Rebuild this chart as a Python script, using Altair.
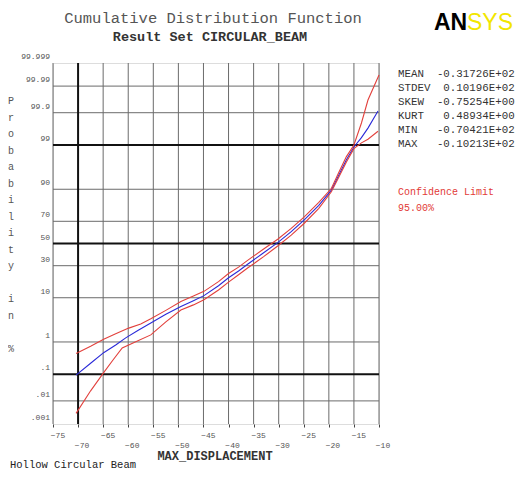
import altair as alt
import pandas as pd
from statistics import NormalDist

ND = NormalDist()

def probit(p):
    return ND.inv_cdf(p / 100.0)

NB = "\u00a0"

# ---------------- data ----------------
x_ticks = [-75, -70, -65, -60, -55, -50, -45, -40, -35, -30, -25, -20, -15, -10]
x_labels_upper = [-75, -65, -55, -45, -35, -25, -15]
x_labels_lower = [-70, -60, -50, -40, -30, -20, -10]
x_thick = [-70]

p_ticks = [99.999, 99.99, 99.9, 99, 90, 70, 50, 30, 10, 1, 0.1, 0.01, 0.001]
p_labels = ["99.999", "99.99", "99.9", "99", "90", "70", "50", "30", "10", "1", ".1", ".01", ".001"]
p_thin = [99.99, 99.9, 90, 70, 30, 10, 1, 0.01]
p_thick = [99, 50, 0.1]

# empirical CDF (blue)
cdf_x = [-70.4, -67.5, -64.9, -62.5, -60.5, -58.0, -55.5, -52.5, -49.5, -47.0, -44.9, -42.0, -40.0,
         -38.0, -36.2, -33.0, -30.2, -27.5, -24.9, -22.0, -19.5, -18.0, -16.5, -15.0, -13.5, -12.2, -10.2]
cdf_p = [0.0935, 0.233, 0.494, 0.82, 1.29, 2.02, 3.0, 4.75, 6.8, 8.85, 10.9, 15.9, 20.9,
         25.8, 31.2, 41.3, 50.8, 61.0, 71.2, 81.6, 89.6, 94.7, 97.6, 98.87, 99.38, 99.68, 99.913]

# upper confidence limit (red)
up_x = [-70.4, -67.5, -64.9, -62.5, -59.9, -57.5, -55.5, -52.5, -49.5, -47.0, -44.9, -42.0, -40.0,
        -38.0, -36.2, -33.0, -30.2, -27.5, -24.9, -22.0, -19.5, -18.0, -16.5, -15.0, -13.5, -12.2, -10.0]
up_p = [0.466, 0.755, 1.19, 1.66, 2.28, 2.87, 3.75, 5.7, 8.5, 10.7, 12.9, 18.4, 23.9,
        28.8, 34.5, 44.8, 54.0, 64.0, 73.6, 83.4, 90.3, 95.4, 98.0, 99.0, 99.78, 99.965, 99.9966]

# lower confidence limit (red)
lo_x = [-70.4, -67.5, -64.9, -63.0, -61.2, -58.5, -55.5, -52.5, -49.5, -47.0, -44.9, -42.0, -40.0,
        -38.0, -36.2, -33.0, -30.2, -27.5, -24.9, -22.0, -19.5, -18.0, -16.5, -15.0, -13.5, -12.2, -10.2]
lo_p = [0.003, 0.025, 0.114, 0.30, 0.68, 1.02, 1.54, 3.2, 5.8, 7.35, 9.2, 13.6, 18.1,
        23.0, 28.1, 37.8, 47.6, 57.9, 68.4, 79.7, 88.9, 94.2, 97.3, 98.75, 99.13, 99.31, 99.6]

stats_lines = ["MEAN  -0.31726E+02", "STDEV  0.10196E+02", "SKEW  -0.75254E+00",
               "KURT   0.48934E+00", "MIN   -0.70421E+02", "MAX   -0.10213E+02"]
conf_lines = ["Confidence Limit", "95.00%"]
ytitle_words = ["Probability", "in", "%"]

# ---------------- layout ----------------
W, H = 326, 361
MONO = "Liberation Mono"
zmax = probit(99.999)
zmin = probit(0.001)

xscale = alt.Scale(domain=[-75, -10], nice=False, zero=False)
yscale = alt.Scale(domain=[zmin, zmax], nice=False, zero=False)
xaxis = alt.Axis(values=x_ticks, labels=False, domain=False, grid=False, ticks=True,
                 tickSize=3, tickColor="#444", title=None)
X = alt.X("x:Q", scale=xscale, axis=xaxis)
Y = alt.Y("z:Q", scale=yscale, axis=None)

# grid lines
vthin = pd.DataFrame({"x": [v for v in x_ticks if v not in x_thick]})
vthick = pd.DataFrame({"x": x_thick})
hthin = pd.DataFrame({"z": [probit(p) for p in p_thin]})
hthick = pd.DataFrame({"z": [probit(p) for p in p_thick]})

v1 = alt.Chart(vthin).mark_rule(color="#6b6b6b", strokeWidth=1).encode(
    x=X, y=alt.value(0), y2=alt.value(H))
v2 = alt.Chart(vthick).mark_rule(color="#111", strokeWidth=2).encode(
    x=X, y=alt.value(0), y2=alt.value(H))
h1 = alt.Chart(hthin).mark_rule(color="#6b6b6b", strokeWidth=1).encode(
    y=Y, x=alt.value(0), x2=alt.value(W))
h2 = alt.Chart(hthick).mark_rule(color="#111", strokeWidth=2).encode(
    y=Y, x=alt.value(0), x2=alt.value(W))

# curves
rows = []
for s, xs, ps in [("cdf", cdf_x, cdf_p), ("upper", up_x, up_p), ("lower", lo_x, lo_p)]:
    for i, (a, b) in enumerate(zip(xs, ps)):
        rows.append({"series": s, "x": a, "z": probit(b), "o": i})
curves_df = pd.DataFrame(rows)
curves = alt.Chart(curves_df).mark_line(strokeWidth=1.1).encode(
    x=X, y=Y, order="o:Q",
    color=alt.Color("series:N", legend=None,
                    scale=alt.Scale(domain=["cdf", "upper", "lower"],
                                    range=["#2a2ad8", "#e2403c", "#e2403c"])),
)

# y labels
ylab_df = pd.DataFrame({"z": [probit(p) for p in p_ticks], "label": p_labels})
ylab = alt.Chart(ylab_df).mark_text(font=MONO, fontSize=8, color="#555", align="right",
                                    baseline="bottom", dy=-2).encode(
    y=Y, x=alt.value(-3), text="label:N")

# x labels (staggered)
xu = alt.Chart(pd.DataFrame({"x": x_labels_upper})).mark_text(
    font=MONO, fontSize=8, color="#555", align="center", dx=5).encode(
    x=X, y=alt.value(H + 12), text=alt.Text("x:Q", format="d"))
xl = alt.Chart(pd.DataFrame({"x": x_labels_lower})).mark_text(
    font=MONO, fontSize=8, color="#555", align="center", dx=4).encode(
    x=X, y=alt.value(H + 22), text=alt.Text("x:Q", format="d"))

one = pd.DataFrame({"a": [0]})

def nb(s):
    return s.replace(" ", NB)

def txt(text, x, y, size, color="#444", align="left", baseline="middle", font=MONO,
        weight="normal", lineHeight=None):
    if isinstance(text, list):
        text = [nb(t) for t in text]
    kw = dict(text=text, font=font, fontSize=size, color=color, align=align,
              baseline=baseline, fontWeight=weight)
    if lineHeight is not None:
        kw["lineHeight"] = lineHeight
    return alt.Chart(one).mark_text(**kw).encode(x=alt.value(x), y=alt.value(y))

title = txt("Cumulative Distribution Function", 160, -45, 15.5, color="#555", align="center")
subtitle = txt("Result Set CIRCULAR_BEAM", 157, -26, 13.5, color="#333", align="center",
               weight="bold")
logo1 = txt("AN", 381, -40, 23, color="#000", font="Liberation Sans", weight="bold")
logo2 = txt("SYS", 414, -40, 23, color="#f2e600", font="Liberation Sans")
stats = txt(stats_lines, 345, 5, 10.8, color="#333", baseline="top", lineHeight=14)
conf = txt(conf_lines, 345, 124, 10, color="#e23a36", baseline="top", lineHeight=16)

# vertical stacked y-axis title (one slot per character, spaces keep a slot)
LH = 16.5
ytitle_layers = []
slot = 0
for w in ytitle_words:
    ytitle_layers.append(txt(list(w), -42, 33 + slot * LH, 10, color="#555", align="center",
                             baseline="top", lineHeight=LH))
    slot += len(w) + 1

xtitle = txt("MAX_DISPLACEMENT", 162, 393, 12, color="#333", align="center", weight="bold")
footer = txt("Hollow Circular Beam", -43, 402, 10.5, color="#222")

chart = alt.layer(
    v1, h1, v2, h2, curves, ylab, xu, xl,
    title, subtitle, logo1, logo2, stats, conf, *ytitle_layers, xtitle, footer
).properties(
    width=W, height=H,
    autosize=alt.AutoSizeParams(type="none"),
    padding={"left": 45, "top": 55, "right": 140, "bottom": 47},
).configure_view(stroke="#444", strokeWidth=1.5).configure(background="white")

chart.save("out.html", embed_options={"renderer": "svg", "actions": False})
